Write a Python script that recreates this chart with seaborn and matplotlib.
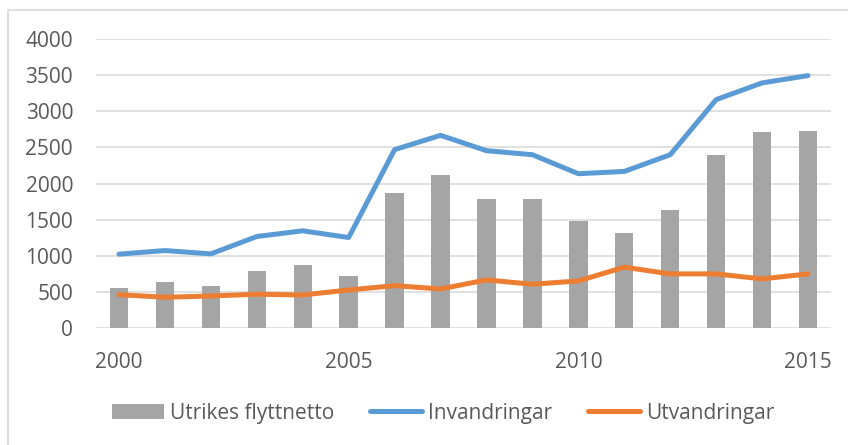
import numpy as np
import matplotlib
matplotlib.use("Agg")
import matplotlib.pyplot as plt
from matplotlib.patches import Patch, Rectangle
from matplotlib.lines import Line2D
import seaborn as sns

years = list(range(2000, 2016))
flyttnetto = [562, 637, 586, 798, 881, 729, 1874, 2123,
              1787, 1787, 1477, 1324, 1639, 2391, 2709, 2733]
invandringar = [1025, 1075, 1029, 1269, 1348, 1255, 2470, 2668,
                2456, 2400, 2137, 2169, 2400, 3162, 3393, 3494]
utvandringar = [465, 429, 447, 471, 461, 530, 590, 544,
                669, 609, 655, 845, 752, 752, 683, 752]
x_ticks = [2000, 2005, 2010, 2015]
y_ticks = list(range(0, 4001, 500))

GRAY = "#A5A5A5"
BLUE = "#5B9BD5"
ORANGE = "#ED7D31"
TEXT = "#595959"
GRID = "#D9D9D9"

sns.set_style("white")
plt.rcParams["font.family"] = ["Open Sans", "DejaVu Sans"]
plt.rcParams["font.size"] = 15

W, H = 848, 445
fig = plt.figure(figsize=(W / 100, H / 100), dpi=100)
ax = fig.add_axes([96 / W, 1 - 328.3 / H, (831 - 96) / W, (328.3 - 39) / H])

sns.barplot(x=years, y=flyttnetto, native_scale=True, color=GRAY,
            saturation=1, width=0.4, linewidth=0, edgecolor="none",
            ax=ax, zorder=2)
sns.lineplot(x=years, y=invandringar, color=BLUE, lw=3.6, ax=ax,
             solid_capstyle="round", zorder=3)
sns.lineplot(x=years, y=utvandringar, color=ORANGE, lw=3.6, ax=ax,
             solid_capstyle="round", zorder=3)

ax.set_xlim(1999.5, 2015.5)
ax.set_ylim(0, 4000)
ax.set_xticks(x_ticks)
ax.set_yticks(y_ticks)
ax.set_xticklabels([str(t) for t in x_ticks])
ax.tick_params(axis="x", length=0, pad=17, labelsize=15, labelcolor=TEXT)
ax.tick_params(axis="y", length=0, pad=16.5, labelsize=15, labelcolor=TEXT)
ax.yaxis.grid(True, color=GRID, lw=1.1, zorder=0)
ax.set_axisbelow(True)
for s in ax.spines.values():
    s.set_visible(False)
ax.set_xlabel("")
ax.set_ylabel("")

handles = [
    Patch(facecolor=GRAY, edgecolor="none", label="Utrikes flyttnetto"),
    Line2D([0], [0], color=BLUE, lw=3.6, solid_capstyle="round", label="Invandringar"),
    Line2D([0], [0], color=ORANGE, lw=3.6, solid_capstyle="round", label="Utvandringar"),
]
leg = fig.legend(handles=handles, loc="center", bbox_to_anchor=(443 / W, 1 - 413 / H),
                 ncol=3, frameon=False, fontsize=15, handlelength=2.5,
                 handletextpad=0.3, columnspacing=1.7)
for t in leg.get_texts():
    t.set_color(TEXT)

# light outer frame, right and bottom edges fall outside the picture
fig.patches.append(Rectangle((7.5 / W, -0.1), 1.1, 1 - 10 / H + 0.1,
                             transform=fig.transFigure, fill=False,
                             edgecolor=GRID, lw=1.2, clip_on=False))

fig.savefig("out.png", dpi=100)
